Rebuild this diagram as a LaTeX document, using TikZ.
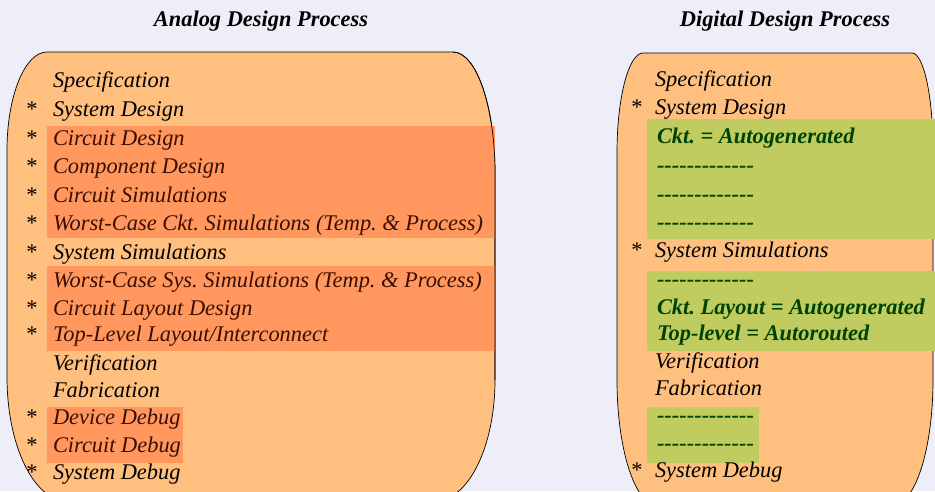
\documentclass[tikz,border=0pt]{standalone}
\usepackage{fontspec}
\setmainfont{Liberation Serif}
\frenchspacing
\definecolor{pagebg}{RGB}{238,238,248}
\definecolor{panelfill}{RGB}{255,191,127}
\definecolor{hotfill}{RGB}{255,151,94}
\definecolor{hottext}{RGB}{60,14,0}
\definecolor{genfill}{RGB}{192,204,96}
\definecolor{gentext}{RGB}{0,66,0}
\newcommand\dashrow{\mbox{-}\mbox{-}\mbox{-}\mbox{-}\mbox{-}\mbox{-}\mbox{-}\mbox{-}\mbox{-}\mbox{-}\mbox{-}\mbox{-}\mbox{-}}
\newcommand\bodysize{\fontsize{22.4pt}{27pt}\selectfont}
\begin{document}
\begin{tikzpicture}[x=1pt,y=-1pt,
  every node/.style={inner sep=0pt, outer sep=0pt},
  item/.style={anchor=base west, font=\bodysize\itshape},
  hot/.style={item, text=hottext},
  gen/.style={anchor=base west, text=gentext, font=\bodysize\bfseries\itshape},
  star/.style={anchor=base, font=\bodysize\upshape},
  heading/.style={anchor=base, font=\bodysize\bfseries\itshape},
  panel/.style={fill=panelfill, draw=black, line width=0.7pt},
  panelline/.style={draw=black, line width=0.7pt},
  hotband/.style={fill=hotfill},
  genband/.style={fill=genfill}]

\useasboundingbox (0,0) rectangle (935,491);
\clip (0,0) rectangle (935,491);
\fill[pagebg] (0,0) rectangle (935,491);

% headings
\node[heading] (hA) at (261,26) {Analog Design Process};
\node[heading] (hD) at (785,26) {Digital Design Process};

% analog panel
\path[panel] (47,52) -- (453,52)
  .. controls (476.2,52) and (495,106.2) .. (495,173) -- (495,380)
  .. controls (495,446.8) and (468.1,501) .. (435,501) -- (67,501)
  .. controls (33.9,501) and (7,445.5) .. (7,377) -- (7,150)
  .. controls (7,95.9) and (24.9,52) .. (47,52) -- cycle;
\fill[hotband] (47,126) rectangle (495,238);
\fill[hotband] (47,266) rectangle (495,351);
\fill[hotband] (47,407) rectangle (183,463);
\path[panelline] (453,52)
  .. controls (476.2,52) and (495,106.2) .. (495,173) -- (495,380);

% digital panel
\path[panel] (643,53) -- (912,53)
  .. controls (923.6,53) and (933,96.4) .. (933,150) -- (933,380)
  .. controls (933,449) and (915.1,505) .. (893,505) -- (657,505)
  .. controls (634.9,505) and (617,449) .. (617,380) -- (617,153)
  .. controls (617,97.8) and (628.6,53) .. (643,53) -- cycle;
\fill[genband] (647,119) rectangle (935,239);
\fill[genband] (647,271) rectangle (935,351);
\fill[genband] (647,407) rectangle (759,463);

% analog steps
\node[item] (a1)  at (53,87)  {Specification};
\node[item] (a2)  at (53,116) {System Design};
\node[hot]  (a3)  at (53,145) {Circuit Design};
\node[hot]  (a4)  at (53,173) {Component Design};
\node[hot]  (a5)  at (53,202) {Circuit Simulations};
\node[hot]  (a6)  at (53,230) {Worst-Case Ckt. Simulations (Temp. \& Process)};
\node[item] (a7)  at (53,259) {System Simulations};
\node[hot]  (a8)  at (53,287) {Worst-Case Sys. Simulations (Temp. \& Process)};
\node[hot]  (a9)  at (53,315) {Circuit Layout Design};
\node[hot]  (a10) at (53,341) {Top-Level Layout/Interconnect};
\node[item] (a11) at (53,370) {Verification};
\node[item] (a12) at (53,397) {Fabrication};
\node[hot]  (a13) at (53,424) {Device Debug};
\node[hot]  (a14) at (53,452) {Circuit Debug};
\node[item] (a15) at (53,479) {System Debug};
\foreach \n/\y in {2/116,3/145,4/173,5/202,6/230,7/259,8/287,9/315,10/341,13/424,14/452,15/479}
  \node[star] (sa\n) at (32,\y) {*};

% digital steps
\node[item] (d1)  at (655,86)  {Specification};
\node[item] (d2)  at (655,114) {System Design};
\node[gen]  (d3)  at (657,143) {Ckt. = Autogenerated};
\node[gen]  (d4)  at (657,172) {\dashrow};
\node[gen]  (d5)  at (657,201) {\dashrow};
\node[gen]  (d6)  at (657,229) {\dashrow};
\node[item] (d7)  at (655,257) {System Simulations};
\node[gen]  (d8)  at (657,286) {\dashrow};
\node[gen]  (d9)  at (657,314) {Ckt. Layout = Autogenerated};
\node[gen]  (d10) at (657,340) {Top-level = Autorouted};
\node[item] (d11) at (655,368) {Verification};
\node[item] (d12) at (655,395) {Fabrication};
\node[gen]  (d13) at (657,422) {\dashrow};
\node[gen]  (d14) at (657,450) {\dashrow};
\node[item] (d15) at (655,477) {System Debug};
\foreach \n/\y in {2/114,7/257,15/477}
  \node[star] (sd\n) at (637,\y) {*};
\end{tikzpicture}
\end{document}
